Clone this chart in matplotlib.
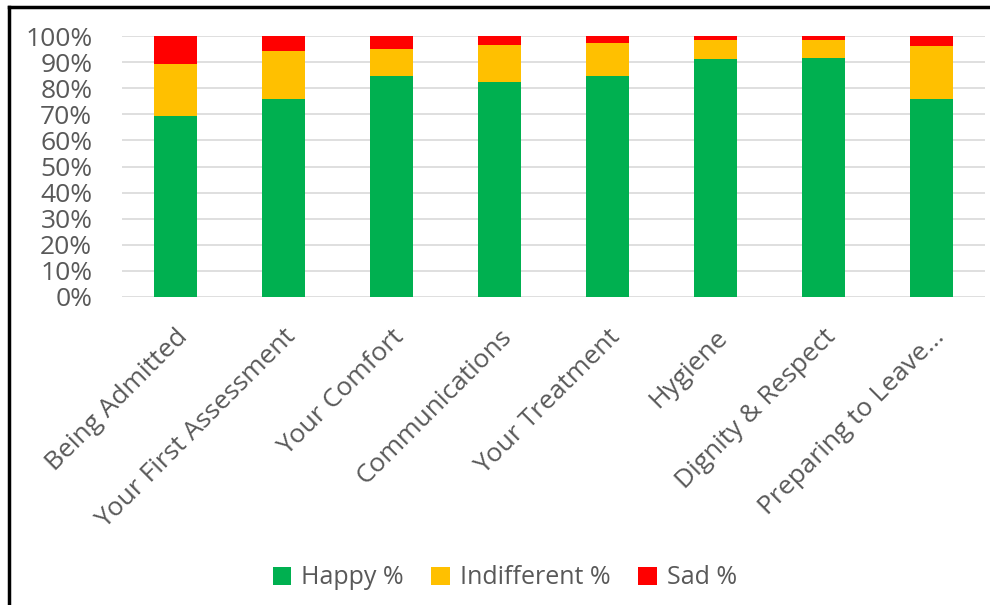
import matplotlib
matplotlib.use("Agg")
import matplotlib.pyplot as plt
from matplotlib.lines import Line2D
from matplotlib.patches import Patch
import numpy as np

categories = ["Being Admitted", "Your First Assessment", "Your Comfort", "Communications",
              "Your Treatment", "Hygiene", "Dignity & Respect", "Preparing to Leave..."]
happy = [69.5, 75.9, 84.9, 82.3, 84.9, 91.2, 91.8, 75.9]
indifferent = [19.7, 18.3, 10.1, 14.5, 12.6, 7.5, 6.9, 20.3]
sad = [10.8, 5.8, 5.0, 3.2, 2.5, 1.3, 1.3, 3.8]
series_names = ["Happy %", "Indifferent %", "Sad %"]
colors = ["#00B050", "#FFC000", "#FF0000"]
yticks = [0, 10, 20, 30, 40, 50, 60, 70, 80, 90, 100]

plt.rcParams['font.family'] = ['Open Sans', 'DejaVu Sans']
fig = plt.figure(figsize=(9.9, 6.05), dpi=100)
W, H = 990, 605
ax = fig.add_axes([121.5 / W, 1 - 296.7 / H, 864 / W, (296.7 - 36.3) / H])

x = np.arange(len(categories))
bottom = np.zeros(len(categories))
for vals, c, name in zip([happy, indifferent, sad], colors, series_names):
    ax.bar(x, vals, width=0.4, bottom=bottom, color=c, label=name, zorder=3)
    bottom += np.array(vals)

ax.set_xlim(-0.5, len(categories) - 0.5)
ax.set_ylim(0, 100)
ax.set_yticks(yticks)
ax.set_yticklabels([f"{v}%" for v in yticks], fontsize=19, color="#595959")
ax.yaxis.grid(True, color="#D9D9D9", linewidth=1.2, zorder=0)
ax.set_axisbelow(True)
for s in ax.spines.values():
    s.set_visible(False)
ax.tick_params(axis='both', length=0)
ax.tick_params(axis='y', pad=21)
ax.set_xticks(x)
ax.set_xticklabels(categories, rotation=45, ha='right', rotation_mode='anchor',
                   fontsize=19, color="#595959")
ax.tick_params(axis='x', pad=20)

handles = [Patch(facecolor=c, label=n) for c, n in zip(colors, series_names)]
fig.legend(handles=handles, loc='center', bbox_to_anchor=(0.51, 1 - 578 / H), ncol=3,
           frameon=False, fontsize=18, labelcolor="#595959", handlelength=0.75,
           handleheight=0.75, handletextpad=0.4, columnspacing=1.1)

fig.add_artist(Line2D([9 / W, 9 / W], [0, 1 - 6.5 / H], color='black', linewidth=2.5,
                      transform=fig.transFigure))
fig.add_artist(Line2D([9 / W, 1], [1 - 6.5 / H, 1 - 6.5 / H], color='black', linewidth=2.5,
                      transform=fig.transFigure))

fig.savefig("out.png", dpi=100)
